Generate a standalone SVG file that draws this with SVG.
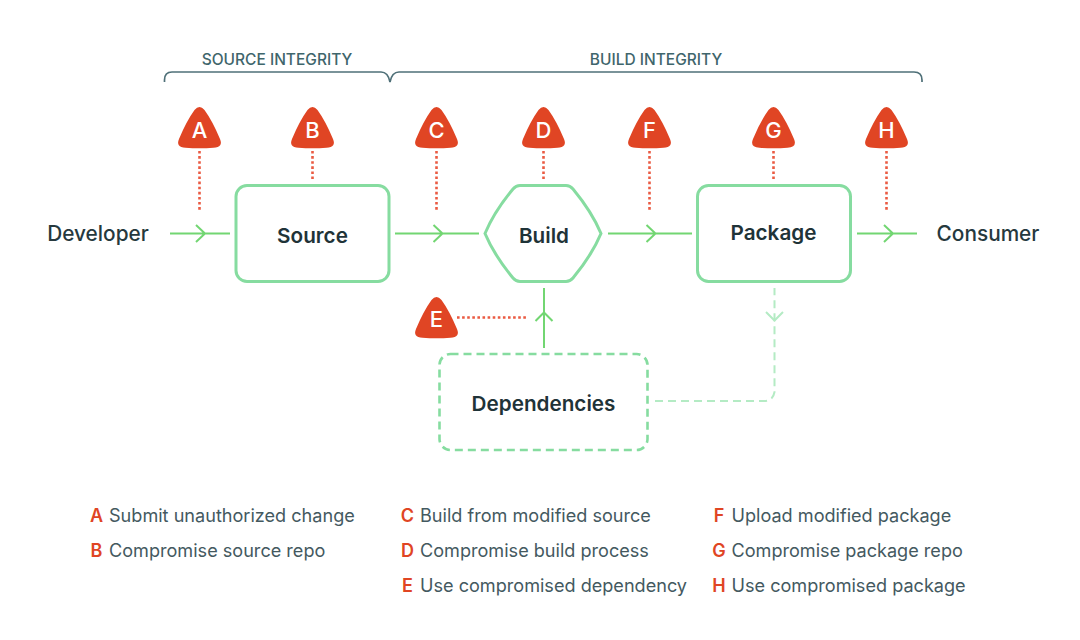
<svg xmlns="http://www.w3.org/2000/svg" width="1080" height="640" viewBox="0 0 1080 640">
<style>
text{font-family:Inter,"Liberation Sans",sans-serif}
.bg{fill:#fff}
.node{fill:#fff;stroke:#86dca0;stroke-width:3}
.dash{stroke-width:2.600;stroke-dasharray:8 5}
.flow{fill:none;stroke:#72d672;stroke-width:2}
.dep{fill:none;stroke:#b4ebc4;stroke-width:2;stroke-dasharray:8 5}
.depa{fill:none;stroke:#b4ebc4;stroke-width:2}
.threat{fill:none;stroke:#ea5a42;stroke-width:2.6;stroke-dasharray:2.6 2.5}
.brace{fill:none;stroke:#4f7078;stroke-width:1.7}
.tri{fill:#e04524}
.tl{fill:#fff;font-size:22px;font-weight:500;text-anchor:middle}
.nl{fill:#1f3338;font-size:20.700px;font-weight:600;text-anchor:middle}
.ext{fill:#26393e;font-size:20.800px;font-weight:500;text-anchor:middle}
.sec{fill:#3f666c;font-size:15.500px;font-weight:500;text-anchor:middle}
.k{fill:#e04524;font-size:18px;font-weight:600;text-anchor:middle}
.v{fill:#44595f;font-size:18.100px}
</style>
<defs>
<path id="tri" d="M-5 -38Q0 -44 5 -38Q13 -27 20.500 -9Q24 -1 14 -.300Q0 .800 -14 -.300Q-24 -1 -20.500 -9Q-13 -27 -5 -38Z"/>
</defs>
<rect class="bg" width="1080" height="640"/>
<g id="braces">
<path class="brace" d="M164.500 82V80Q164.500 72 172 72H381Q388 72 390 82Q392 72 399 72H914Q922 72 922 80V82"/>
<text class="sec" x="277" y="65">SOURCE INTEGRITY</text>
<text class="sec" x="656" y="65">BUILD INTEGRITY</text>
</g>
<g id="connectors">
<path class="flow" d="M170 233.500H230M196 225L205 233.500L196 242"/>
<path class="flow" d="M395 233.500H479M433.500 225L442.500 233.500L433.500 242"/>
<path class="flow" d="M608 233.500H692M646.500 225L655.500 233.500L646.500 242"/>
<path class="flow" d="M857 233.500H917M884 225L893 233.500L884 242"/>
<path class="flow" d="M544 288V348M535.500 321L544 312.500L552.500 321"/>
<path class="dep" d="M655 401H764Q773 401 774.500 392V288"/>
<path class="depa" d="M766 312L774.500 320.500L783 312"/>
<path class="threat" d="M199.500 151V212"/>
<path class="threat" d="M312.500 151V180"/>
<path class="threat" d="M436.500 151V212"/>
<path class="threat" d="M543.500 151V180"/>
<path class="threat" d="M649.500 151V212"/>
<path class="threat" d="M773.500 151V180"/>
<path class="threat" d="M886.500 151V212"/>
<path class="threat" d="M457 317.500H527"/>
</g>
<g id="source"><rect class="node" x="236" y="185.500" width="153" height="96" rx="11"/><text class="nl" x="312.500" y="242.500">Source</text></g>
<g id="build"><path class="node" d="M520 185.500H566Q570 185.500 573 189Q592 212 601 233.500Q592 255 573 278Q570 281.500 566 281.500H520Q516 281.500 513 278Q494 255 485 233.500Q494 212 513 189Q516 185.500 520 185.500Z"/><text class="nl" x="544" y="243">Build</text></g>
<g id="package"><rect class="node" x="697.500" y="185.500" width="153" height="96" rx="11"/><text class="nl" x="773.500" y="240">Package</text></g>
<g id="dependencies"><rect class="node dash" x="439.500" y="354" width="208" height="96" rx="11"/><text class="nl" x="543.500" y="411">Dependencies</text></g>
<g id="developer"><text class="ext" x="98" y="240.500">Developer</text></g>
<g id="consumer"><text class="ext" x="988" y="240.500">Consumer</text></g>
<g id="threat-a"><use class="tri" href="#tri" x="199.500" y="148"/><text class="tl" x="199.500" y="138">A</text></g>
<g id="threat-b"><use class="tri" href="#tri" x="312.500" y="148"/><text class="tl" x="312.500" y="138">B</text></g>
<g id="threat-c"><use class="tri" href="#tri" x="436.500" y="148"/><text class="tl" x="436.500" y="138">C</text></g>
<g id="threat-d"><use class="tri" href="#tri" x="543.500" y="148"/><text class="tl" x="543.500" y="138">D</text></g>
<g id="threat-f"><use class="tri" href="#tri" x="649.500" y="148"/><text class="tl" x="649.500" y="138">F</text></g>
<g id="threat-g"><use class="tri" href="#tri" x="773.500" y="148"/><text class="tl" x="773.500" y="138">G</text></g>
<g id="threat-h"><use class="tri" href="#tri" x="886.500" y="148"/><text class="tl" x="886.500" y="138">H</text></g>
<g id="threat-e"><use class="tri" href="#tri" x="436.500" y="338"/><text class="tl" x="436.500" y="327">E</text></g>
<g id="legend">
<text class="k" x="96.500" y="521.500">A</text><text class="v" x="109" y="521.500">Submit unauthorized change</text>
<text class="k" x="96.500" y="556.500">B</text><text class="v" x="109" y="556.500">Compromise source repo</text>
<text class="k" x="407.500" y="521.500">C</text><text class="v" x="420" y="521.500">Build from modified source</text>
<text class="k" x="407.500" y="556.500">D</text><text class="v" x="420" y="556.500">Compromise build process</text>
<text class="k" x="407.500" y="591.500">E</text><text class="v" x="420" y="591.500">Use compromised dependency</text>
<text class="k" x="719" y="521.500">F</text><text class="v" x="731.500" y="521.500">Upload modified package</text>
<text class="k" x="719" y="556.500">G</text><text class="v" x="731.500" y="556.500">Compromise package repo</text>
<text class="k" x="719" y="591.500">H</text><text class="v" x="731.500" y="591.500">Use compromised package</text>
</g>
</svg>
